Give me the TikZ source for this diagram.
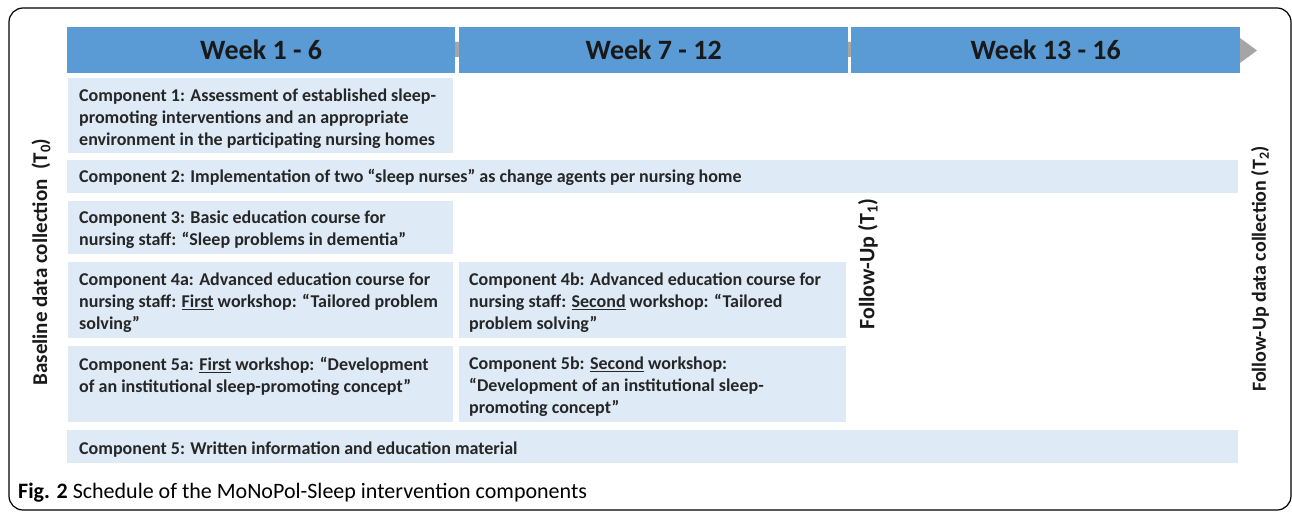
\documentclass[tikz,border=0pt]{standalone}
\usepackage{fontspec}
\setmainfont{Carlito}
\definecolor{hdr}{HTML}{5B9BD5}
\definecolor{comp}{HTML}{DEEAF6}
\definecolor{arr}{HTML}{A5A5A5}
\begin{document}
\begin{tikzpicture}[x=1pt,y=-1pt,
  hdrbox/.style={fill=hdr, draw=none, minimum height=46pt, inner sep=0pt, anchor=north west,
    font=\fontsize{28}{32}\selectfont\bfseries, text=black!90},
  compbox/.style={fill=comp, draw=none, inner sep=0pt, anchor=north west},
  comptext/.style={inner sep=0pt, align=left, font=\fontsize{18}{22}\selectfont\bfseries, text=black!85},
  sidelabel/.style={rotate=90, inner sep=0pt, font=\fontsize{20}{24}\selectfont\bfseries, text=black!90}]
\useasboundingbox (0,0) rectangle (1292,513);
% frame
\draw[line width=1.2pt, rounded corners=14pt] (9,8) rectangle (1291,510);
% timeline arrow
\fill[arr] (67,42) -- (1240,42) -- (1240,38) -- (1257,50.5) -- (1240,63) -- (1240,57) -- (67,57) -- cycle;
% headers
\node[hdrbox, minimum width=388pt] (h1) at (67,27) {Week 1 - 6};
\node[hdrbox, minimum width=389pt] (h2) at (459,27) {Week 7 - 12};
\node[hdrbox, minimum width=389pt] (h3) at (851,27) {Week 13 - 16};
% component boxes
\node[compbox, minimum width=385pt, minimum height=75pt] (c1) at (68,78) {};
\node[compbox, minimum width=1171pt, minimum height=33pt] (c2) at (67,160) {};
\node[compbox, minimum width=385pt, minimum height=53pt] (c3) at (68,201) {};
\node[compbox, minimum width=385pt, minimum height=76pt] (c4a) at (68,262) {};
\node[compbox, minimum width=387pt, minimum height=76pt] (c4b) at (459,262) {};
\node[compbox, minimum width=385pt, minimum height=76pt] (c5a) at (68,346) {};
\node[compbox, minimum width=387pt, minimum height=76pt] (c5b) at (459,346) {};
\node[compbox, minimum width=1171pt, minimum height=33pt] (c5) at (67,430) {};
% component texts
\node[comptext, anchor=north west] (t1) at ([shift={(11,11)}]c1.north west)
  {Component 1: Assessment of established sleep-\\promoting interventions and an appropriate\\environment in the participating nursing homes};
\node[comptext, anchor=west] (t2) at ([shift={(12,1)}]c2.west)
  {Component 2: Implementation of two “sleep nurses” as change agents per nursing home};
\node[comptext, anchor=north west] (t3) at ([shift={(11,10)}]c3.north west)
  {Component 3: Basic education course for\\nursing staff: “Sleep problems in dementia”};
\node[comptext, anchor=north west] (t4a) at ([shift={(11,11)}]c4a.north west)
  {Component 4a: Advanced education course for\\nursing staff: \underline{First} workshop: “Tailored problem\\solving”};
\node[comptext, anchor=north west] (t4b) at ([shift={(10,11)}]c4b.north west)
  {Component 4b: Advanced education course for\\nursing staff: \underline{Second} workshop: “Tailored\\problem solving”};
\node[comptext, anchor=north west] (t5a) at ([shift={(11,11)}]c5a.north west)
  {Component 5a: \underline{First} workshop: “Development\\of an institutional sleep-promoting concept”};
\node[comptext, anchor=north west] (t5b) at ([shift={(10,11)}]c5b.north west)
  {Component 5b: \underline{Second} workshop:\\“Development of an institutional sleep-\\promoting concept”};
\node[comptext, anchor=west] (t5) at ([shift={(12,3)}]c5.west)
  {Component 5: Written information and education material};
% side labels
\node[sidelabel, font=\fontsize{21}{24}\selectfont\bfseries] (t0) at (41,262) {Baseline data collection\ \ (T\textsubscript{0})};
\node[sidelabel, font=\fontsize{22}{26}\selectfont\bfseries] (tt1) at (868,264) {Follow-Up (T\textsubscript{1})};
\node[sidelabel] (tt2) at (1260,269) {Follow-Up data collection (T\textsubscript{2})};
% caption
\node[anchor=base west, inner sep=0pt, font=\fontsize{22}{26}\selectfont] (cap) at (18,498)
  {\textbf{Fig. 2} Schedule of the MoNoPol-Sleep intervention components};
\end{tikzpicture}
\end{document}
